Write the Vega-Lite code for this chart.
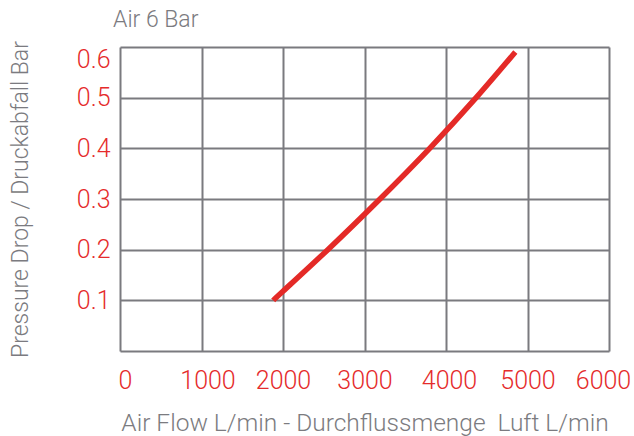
{
  "$schema": "https://vega.github.io/schema/vega-lite/v6.json",
  "width": 489,
  "height": 304,
  "autosize": {"type": "none"},
  "padding": {"left": 120, "top": 47, "right": 25, "bottom": 85},
  "background": "white",
  "config": {"view": {"stroke": null}, "font": "Roboto"},
  "title": {
    "text": "Air 6 Bar",
    "anchor": "start",
    "frame": "group",
    "dx": -7,
    "dy": 27,
    "offset": 18,
    "baseline": "alphabetic",
    "fontSize": 23,
    "fontWeight": 300,
    "color": "#7b7b80"
  },
  "data": {
    "values": [
      {"flow": 1880, "drop": 0.1},
      {"flow": 2000, "drop": 0.118},
      {"flow": 2550, "drop": 0.2},
      {"flow": 3190, "drop": 0.3},
      {"flow": 3800, "drop": 0.4},
      {"flow": 4370, "drop": 0.5},
      {"flow": 4850, "drop": 0.59}
    ]
  },
  "mark": {
    "type": "line",
    "color": "#e42a27",
    "strokeWidth": 5.5,
    "strokeCap": "butt",
    "interpolate": "natural"
  },
  "encoding": {
    "x": {
      "field": "flow",
      "type": "quantitative",
      "scale": {"domain": [0, 6000], "nice": false},
      "axis": {
        "values": [0, 1000, 2000, 3000, 4000, 5000, 6000],
        "format": "d",
        "title": "Air Flow L/min - Durchflussmenge\u00a0 Luft L/min",
        "domain": false,
        "ticks": false,
        "grid": true,
        "gridColor": "#7a7a7f",
        "gridWidth": 2,
        "labelFlush": false,
        "labelOffset": {
          "condition": [
            {"test": "datum.value === 0", "value": 5},
            {"test": "datum.value === 1000", "value": 6},
            {"test": "datum.value === 4000", "value": 3},
            {"test": "datum.value === 6000", "value": -6}
          ],
          "value": 0
        },
        "labelColor": "#e52b2b",
        "labelFontSize": 25,
        "labelFontWeight": 300,
        "labelPadding": 17,
        "titleFontSize": 24.5,
        "titleFontWeight": 300,
        "titleColor": "#7b7b80",
        "titleBaseline": "alphabetic",
        "titleY": 79
      }
    },
    "y": {
      "field": "drop",
      "type": "quantitative",
      "scale": {"domain": [0, 0.6], "nice": false},
      "axis": {
        "values": [0, 0.1, 0.2, 0.3, 0.4, 0.5, 0.6],
        "labelExpr": "datum.value === 0 ? '' : format(datum.value, '.1f')",
        "title": "Pressure Drop / Druckabfall Bar",
        "domain": false,
        "ticks": false,
        "grid": true,
        "gridColor": "#7a7a7f",
        "gridWidth": 2,
        "labelColor": "#e52b2b",
        "labelFontSize": 25,
        "labelFontWeight": 300,
        "labelPadding": 10,
        "labelFlush": true,
        "titleFontSize": 23,
        "titleFontWeight": 300,
        "titleColor": "#7b7b80",
        "titleBaseline": "alphabetic",
        "titleX": -93,
        "titleY": 152
      }
    }
  }
}
